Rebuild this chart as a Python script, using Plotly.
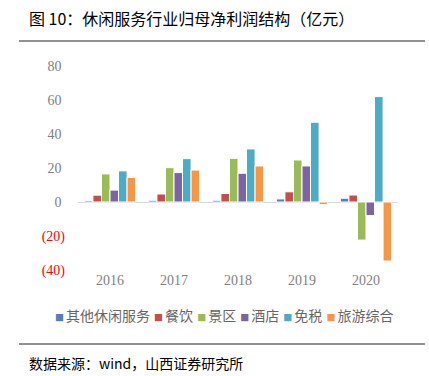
import plotly.graph_objects as go

years = ["2016", "2017", "2018", "2019", "2020"]
series_names = ["其他休闲服务", "餐饮", "景区", "酒店", "免税", "旅游综合"]
other = [0.8, 1.0, 1.0, 1.8, 2.2]
catering = [4.0, 4.7, 5.0, 6.0, 4.1]
scenic = [16.5, 20.2, 25.7, 24.7, -22.4]
hotel = [7.0, 17.3, 16.9, 21.2, -8.0]
dutyfree = [18.3, 25.5, 31.2, 46.9, 62.0]
tourism = [14.5, 18.8, 21.2, -1.5, -34.7]
ytick_vals = [80, 60, 40, 20, 0, -20, -40]
ytick_labels = ["80", "60", "40", "20", "0", "(20)", "(40)"]

colors = ["#4F81BD", "#C0504D", "#9BBB59", "#8064A2", "#4BACC6", "#F79646"]
series = [other, catering, scenic, hotel, dutyfree, tourism]

fig = go.Figure()
for name, vals, c in zip(series_names, series, colors):
    fig.add_trace(go.Bar(x=years, y=vals, name=name, marker=dict(color=c, line=dict(color="white", width=1)),
                         showlegend=False))

ticktext = []
for v, t in zip(ytick_vals, ytick_labels):
    if v < 0:
        ticktext.append(f"<span style='color:#FF0000'>{t}</span>")
    else:
        ticktext.append(t + "\u00a0")

W, H = 429, 376
L, R, T, B = 78, 31, 66, 106
pw, ph = W - L - R, H - T - B

def px_x(x):
    return (x - L) / pw

def px_y(y):
    return (H - B - y) / ph

fig.update_layout(
    width=W, height=H,
    margin=dict(l=L, r=R, t=T, b=B),
    plot_bgcolor="white", paper_bgcolor="white",
    barmode="group", bargap=0.2, bargroupgap=0,
    showlegend=False,
    font=dict(family="Liberation Serif", color="#7f7f7f", size=14),
)
fig.update_xaxes(showgrid=False, showline=False, ticks="", tickfont=dict(family="Liberation Serif", size=14, color="#7f7f7f"))
fig.update_yaxes(range=[-40, 80], tickvals=ytick_vals, ticktext=ticktext, showgrid=False,
                 zeroline=True, zerolinecolor="#d9d9d9", zerolinewidth=1, showline=False, ticks="",
                 ticklabelstandoff=12, tickfont=dict(family="Liberation Serif", size=14, color="#7f7f7f"))

# title and source
fig.add_annotation(text="图 10：休闲服务行业归母净利润结构（亿元）", xref="paper", yref="paper",
                   x=px_x(27), y=px_y(18), xanchor="left", yanchor="middle", showarrow=False,
                   font=dict(family="Noto Sans CJK SC", size=16, color="#000000"))
fig.add_annotation(text="数据来源：wind，山西证券研究所", xref="paper", yref="paper",
                   x=px_x(27), y=px_y(363), xanchor="left", yanchor="middle", showarrow=False,
                   font=dict(family="Noto Sans CJK SC", size=14, color="#000000"))
fig.add_shape(type="line", xref="paper", yref="paper", x0=px_x(19), x1=px_x(425), y0=px_y(41), y1=px_y(41),
              line=dict(color="#222222", width=1))
fig.add_shape(type="line", xref="paper", yref="paper", x0=px_x(19), x1=px_x(425), y0=px_y(344), y1=px_y(344),
              line=dict(color="#222222", width=1))

# legend as text
parts = [f"<span style='color:{c};font-size:9px'>■\u00a0</span>{n}" for n, c in zip(series_names, colors)]
fig.add_annotation(text="<span style='font-size:9px'>\u00a0\u00a0</span>".join(parts), xref="paper", yref="paper",
                   x=px_x(224), y=px_y(315),
                   xanchor="center", yanchor="middle", showarrow=False,
                   font=dict(family="Noto Sans CJK SC", size=14, color="#666666"))

fig.write_html("out.html", config={"displayModeBar": False},
               post_script="document.body.style.margin='0';document.body.style.padding='0';")
